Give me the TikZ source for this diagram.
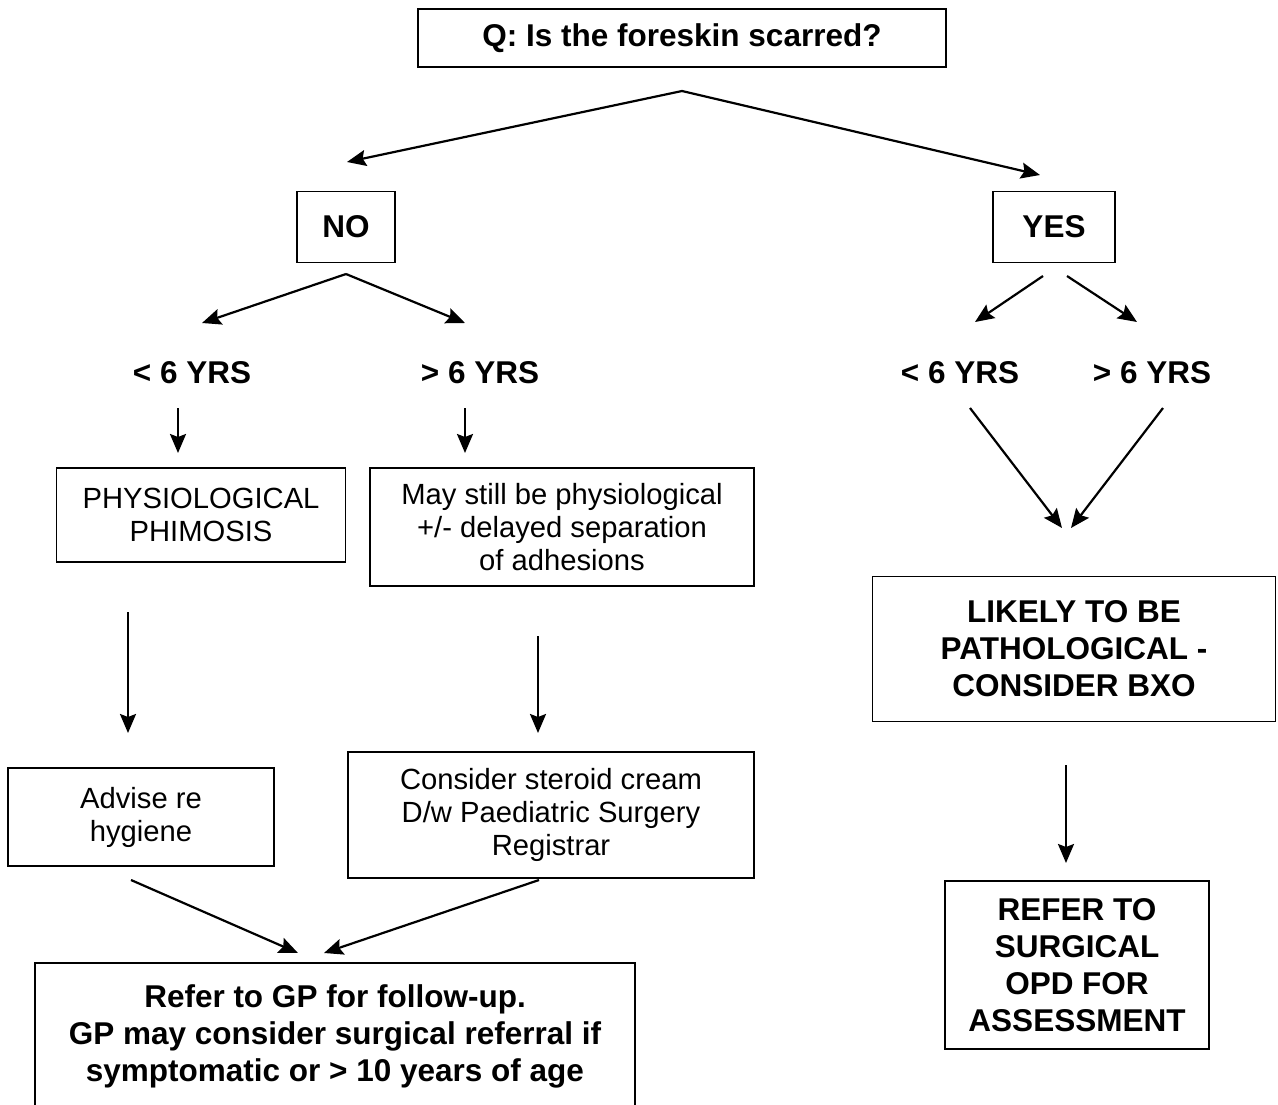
\documentclass[tikz,border=0pt]{standalone}
\usepackage{fontspec}
\setmainfont{Liberation Sans}
\usetikzlibrary{arrows.meta}
\tikzset{
  chartbox/.style={draw, line width=1.6pt, align=center, inner sep=0pt,
    font=\fontsize{29.2}{33}\selectfont},
  boldbox/.style={chartbox, font=\fontsize{31.5}{37}\selectfont\bfseries},
  agelabel/.style={font=\fontsize{31.5}{37}\selectfont\bfseries},
  arr/.style={-{Stealth[length=19pt,width=16pt,inset=3pt]}, line width=2.2pt}
}
\begin{document}
\begin{tikzpicture}[x=1pt,y=-1pt]
  \useasboundingbox (0,0) rectangle (1278,1104);
  \clip (0,0) rectangle (1278,1104);
  % question and answers
  \node[boldbox, minimum width=528pt, minimum height=58pt] (quest) at (682,38) {Q: Is the foreskin scarred?};
  \node[boldbox, minimum width=98pt, minimum height=71pt] (no) at (346,227) {NO};
  \node[boldbox, minimum width=122pt, minimum height=71pt] (yes) at (1054,227) {YES};
  % age labels
  \node[agelabel] (noyoung) at (192,373) {< 6 YRS};
  \node[agelabel] (noold) at (480,373) {> 6 YRS};
  \node[agelabel] (yesyoung) at (960,373) {< 6 YRS};
  \node[agelabel] (yesold) at (1152,373) {> 6 YRS};
  % NO branch
  \node[chartbox, minimum width=289pt, minimum height=94pt] (physio) at (201,515) {PHYSIOLOGICAL\\PHIMOSIS};
  \node[chartbox, minimum width=384pt, minimum height=118pt] (maystill) at (562,527) {May still be physiological\\+/- delayed separation\\of adhesions};
  \node[chartbox, minimum width=266pt, minimum height=98pt] (advise) at (141,817) {Advise re\\hygiene};
  \node[chartbox, minimum width=406pt, minimum height=126pt] (steroid) at (551,815) {Consider steroid cream\\D/w Paediatric Surgery\\Registrar};
  \node[boldbox, minimum width=600pt, minimum height=170pt] (refergp) at (335,1048) {Refer to GP for follow-up.\\GP may consider surgical referral if\\symptomatic or > 10 years of age\\[-7pt]};
  % YES branch
  \node[boldbox, minimum width=403pt, minimum height=145pt] (likely) at (1074,649) {LIKELY TO BE\\PATHOLOGICAL -\\CONSIDER BXO};
  \node[boldbox, minimum width=264pt, minimum height=168pt] (refersurg) at (1077,965) {REFER TO\\SURGICAL\\OPD FOR\\ASSESSMENT};
  % free arrow ends
  \coordinate (qtip) at (682,91);
  \coordinate (noin) at (347,162);
  \coordinate (yesin) at (1040,175);
  \coordinate (notip) at (346,274);
  \coordinate (nlin) at (202,323);
  \coordinate (nrin) at (465,323);
  \coordinate (ylout) at (1043,276);
  \coordinate (ylin) at (975,322);
  \coordinate (yrout) at (1067,276);
  \coordinate (yrin) at (1137,322);
  \coordinate (nlout) at (178,408);
  \coordinate (nlbox) at (178,453);
  \coordinate (nrout) at (465,408);
  \coordinate (nrbox) at (465,453);
  \coordinate (ylfall) at (970,408);
  \coordinate (yrfall) at (1163,408);
  \coordinate (ylmeet) at (1062,528);
  \coordinate (yrmeet) at (1071,528);
  \coordinate (physout) at (128,612);
  \coordinate (physin) at (128,733);
  \coordinate (mayout) at (538,636);
  \coordinate (mayin) at (538,733);
  \coordinate (likout) at (1066,765);
  \coordinate (likin) at (1066,863);
  \coordinate (advout) at (131,880);
  \coordinate (advin) at (298,953);
  \coordinate (sterout) at (539,880);
  \coordinate (sterin) at (324,953);
  % connectors
  \draw[arr] (qtip) -- (noin);
  \draw[arr] (qtip) -- (yesin);
  \draw[arr] (notip) -- (nlin);
  \draw[arr] (notip) -- (nrin);
  \draw[arr] (ylout) -- (ylin);
  \draw[arr] (yrout) -- (yrin);
  \draw[arr] (nlout) -- (nlbox);
  \draw[arr] (nrout) -- (nrbox);
  \draw[arr] (ylfall) -- (ylmeet);
  \draw[arr] (yrfall) -- (yrmeet);
  \draw[arr] (physout) -- (physin);
  \draw[arr] (mayout) -- (mayin);
  \draw[arr] (likout) -- (likin);
  \draw[arr] (advout) -- (advin);
  \draw[arr] (sterout) -- (sterin);
\end{tikzpicture}
\end{document}
